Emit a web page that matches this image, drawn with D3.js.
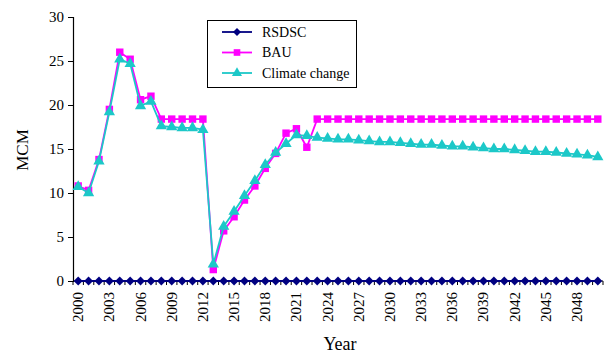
<!DOCTYPE html>
<html><head><meta charset="utf-8">
<script src="https://cdn.jsdelivr.net/npm/d3@7"></script>
<style>body{margin:0;background:#fff}svg{display:block}text{font-family:"Liberation Serif","Times New Roman",serif;fill:#000}</style>
</head><body><svg id="c" width="615" height="354"></svg>
<script>
const years = d3.range(2000, 2051);
const rsdsc = years.map(() => 0);
const bau = [10.8,10.3,13.8,19.5,26.0,25.2,20.6,21.0,18.4,18.4,18.4,18.4,18.4,1.3,5.7,7.3,9.2,10.8,12.8,14.5,16.8,17.3,15.2,
 18.4,18.4,18.4,18.4,18.4,18.4,18.4,18.4,18.4,18.4,18.4,18.4,18.4,18.4,18.4,18.4,18.4,18.4,18.4,18.4,18.4,18.4,18.4,18.4,18.4,18.4,18.4,18.4];
const climate = [10.7,10.0,13.6,19.2,25.2,24.7,19.9,20.4,17.6,17.5,17.4,17.4,17.2,1.9,6.2,7.9,9.7,11.4,13.2,14.6,15.6,16.6,16.5,
 16.3,16.2,16.1,16.1,16.0,15.9,15.8,15.8,15.7,15.6,15.5,15.5,15.4,15.3,15.3,15.2,15.1,15.0,15.0,14.9,14.8,14.7,14.7,14.6,14.5,14.4,14.3,14.1];
const yTicks = [0,5,10,15,20,25,30];
const xLabelYears = d3.range(2000, 2049, 3);
const seriesNames = ["RSDSC","BAU","Climate change"];
const colors = ["#000080","#ff00ff","#1cc8c8"];

const svg = d3.select("#c");
const L = 73, R = 603, T = 17, B = 281;
const x = d3.scaleBand().domain(years).range([L, R]);
const cx = d => x(d) + x.bandwidth()/2;
const y = d3.scaleLinear().domain([0,30]).range([B, T]);

// y axis
const ya = svg.append("g").attr("transform",`translate(${L},0)`)
  .call(d3.axisLeft(y).tickValues(yTicks).tickSize(5).tickPadding(4));
ya.select(".domain").attr("stroke","#000").attr("stroke-width",1.2);
ya.selectAll(".tick line").attr("stroke","#000");
ya.selectAll("text").style("font-size","15px").style("font-family","Liberation Serif");

// x axis
const xa = svg.append("g").attr("transform",`translate(0,${B})`);
xa.append("line").attr("x1",L).attr("x2",R).attr("stroke","#000").attr("stroke-width",1.2);
xa.selectAll("line.tk").data(years.concat([2051])).enter().append("line").attr("class","tk")
  .attr("x1",d=> d===2051? R : x(d)).attr("x2",d=> d===2051? R : x(d)).attr("y1",0).attr("y2",4).attr("stroke","#000");
xa.selectAll("text").data(xLabelYears).enter().append("text")
  .attr("transform",d=>`translate(${cx(d)+5},${11}) rotate(-90)`)
  .attr("text-anchor","end").style("font-size","15px").text(d=>d);

// titles
svg.append("text").attr("transform","translate(28,150) rotate(-90)").attr("text-anchor","middle").style("font-size","17px").text("MCM");
svg.append("text").attr("x",340).attr("y",350).attr("text-anchor","middle").style("font-size","18px").text("Year");

const data = [rsdsc, bau, climate];
const line = d3.line().x((d,i)=>cx(years[i])).y(d=>y(d));
const symbols = [d3.symbolSquare, d3.symbolSquare, d3.symbolTriangle];
const sizes = [40, 55, 55];
const rot = [45, 0, 0];

data.forEach((vals, s) => {
  const g = svg.append("g");
  g.append("path").attr("d", line(vals)).attr("fill","none").attr("stroke",colors[s]).attr("stroke-width",1.8);
  g.selectAll("path.m").data(vals).enter().append("path").attr("class","m")
    .attr("transform",(d,i)=>`translate(${cx(years[i])},${y(d)}) rotate(${rot[s]})`)
    .attr("d", d3.symbol().type(symbols[s]).size(sizes[s])).attr("fill",colors[s]);
});

// legend
const lg = svg.append("g");
lg.append("rect").attr("x",207.5).attr("y",20.5).attr("width",149).attr("height",67).attr("fill","#fff").attr("stroke","#000");
seriesNames.forEach((n,i)=>{
  const yy = 32 + i*20.5;
  lg.append("line").attr("x1",222).attr("x2",252).attr("y1",yy).attr("y2",yy).attr("stroke",colors[i]).attr("stroke-width",1.8);
  lg.append("path").attr("transform",`translate(237,${yy}) rotate(${rot[i]})`).attr("d",d3.symbol().type(symbols[i]).size(sizes[i]*0.8)).attr("fill",colors[i]);
  lg.append("text").attr("x",262).attr("y",yy+4.5).style("font-size","14px").text(n);
});
</script></body></html>
